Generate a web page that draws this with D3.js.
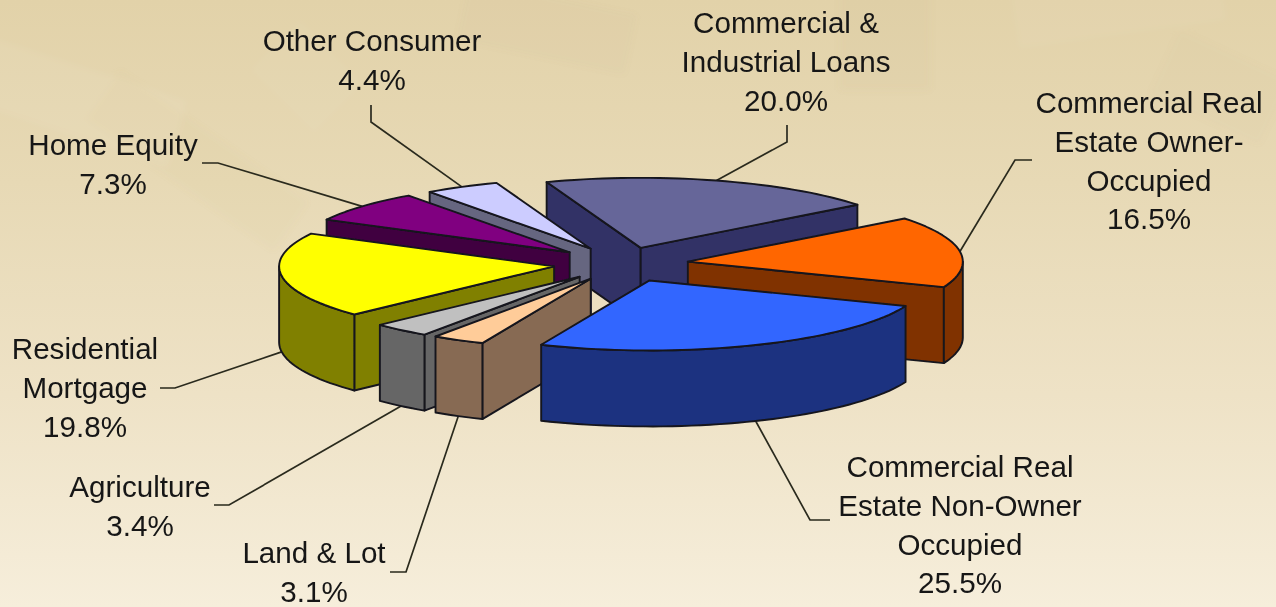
<!DOCTYPE html>
<html><head><meta charset="utf-8">
<script src="https://cdn.jsdelivr.net/npm/d3@7/dist/d3.min.js"></script>
<style>html,body{margin:0;padding:0;overflow:hidden;background:#efe3c6}svg{display:block}</style>
</head><body><svg id="c" width="1276" height="607"></svg>
<script>
const categories=["Commercial & Industrial Loans","Commercial Real Estate Owner-Occupied","Commercial Real Estate Non-Owner Occupied","Land & Lot","Agriculture","Residential Mortgage","Home Equity","Other Consumer"];
const values=[20.0,16.5,25.5,3.1,3.4,19.8,7.3,4.4];
const topColors=["#666699","#FF6600","#3366FF","#FFCC99","#C0C0C0","#FFFF00","#800080","#CCCCFF"];
const wallColors=["#333366","#803300","#1A3380","#876B52","#666666","#808000","#400040","#666680"];
const labelLines=[["Commercial &","Industrial Loans","20.0%"],["Commercial Real","Estate Owner-","Occupied","16.5%"],["Commercial Real","Estate Non-Owner","Occupied","25.5%"],["Land & Lot","3.1%"],["Agriculture","3.4%"],["Residential","Mortgage","19.8%"],["Home Equity","7.3%"],["Other Consumer","4.4%"]];
const labelPos=[[786,33],[1149,113],[960,477],[314,563],[140,497],[85,359],[113,155],[372,51]];
const leaderStubs=[[[787,125],[787,142]],[[1032,160],[1015,160]],[[830,520],[810,520]],[[390,572],[406,572]],[[214,505],[229,505]],[[160,388],[175,388]],[[202,163],[218,163]],[[371,105],[371,122]]];
const explodeBy=[66,66,70,66,66,69,70,68];
const drawOrder=[0,1,7,6,5,4,3,2];

const svg=d3.select("#c"),W=1276,H=607;
const defs=svg.append("defs");
const g=defs.append("linearGradient").attr("id","bg").attr("x1",0).attr("x2",0).attr("y1",0).attr("y2",1);
[[0,"#E2D2A9"],[.3,"#E7D9B5"],[.65,"#EEE2C6"],[1,"#F6EEDB"]].forEach(s=>g.append("stop").attr("offset",s[0]).attr("stop-color",s[1]));
defs.append("filter").attr("id","soft").append("feGaussianBlur").attr("stdDeviation",.45);
defs.append("filter").attr("id","tex").append("feGaussianBlur").attr("stdDeviation",3);
svg.append("rect").attr("width",W).attr("height",H).attr("fill","url(#bg)");
// faint banknote texture at the top
const tex=svg.append("g").attr("filter","url(#tex)");
[[-60,20,260,70,18,"#fff",.05],[120,70,230,60,35,"#b9a57a",.035],[470,-20,170,60,12,"#b9a57a",.04],[840,-30,90,120,0,"#b9a57a",.05],[1010,-10,210,60,-8,"#fff",.04],[1180,30,120,70,25,"#b9a57a",.03],[300,20,90,70,45,"#fff",.035]]
 .forEach(r=>tex.append("rect").attr("x",r[0]).attr("y",r[1]).attr("width",r[2]).attr("height",r[3]).attr("fill",r[5]).attr("opacity",r[6]).attr("transform",`rotate(${r[4]} ${r[0]} ${r[1]})`));

const rad=d=>d*Math.PI/180;
const arcs=d3.pie().sort(null).startAngle(rad(-20)).endAngle(rad(340))(values);
const sx=d3.scaleLinear().domain([-1,1]).range([-275,275]);
const sy=d3.scaleLinear().domain([-1,1]).range([-70,70]);
const cx=622.5,cy=264,depth=76;
const centers=arcs.map((a,i)=>{const m=(a.startAngle+a.endAngle)/2;return [cx+sx(Math.sin(m)*explodeBy[i]/275),cy-sy(Math.cos(m)*explodeBy[i]/275)];});
const pt=(c,a,dz=0)=>[c[0]+sx(Math.sin(a)),c[1]-sy(Math.cos(a))+dz];
const line=d3.line();
const sample=(a0,a1)=>{const n=Math.max(2,Math.ceil((a1-a0)/rad(2)));return d3.range(n+1).map(i=>a0+(a1-a0)*i/n);};

const chart=svg.append("g").attr("filter","url(#soft)");
const leaders=chart.append("g");
arcs.forEach((a,i)=>{
  const m=(a.startAngle+a.endAngle)/2;
  const end=pt(centers[i],m,Math.cos(m)<0?depth:0);
  leaders.append("path").attr("d",line([...leaderStubs[i],end])).attr("fill","none").attr("stroke","#2a2a1e").attr("stroke-width",1.7);
});
const ink="#14141e";
const face=(gg,d,f)=>gg.append("path").attr("d",d).attr("fill",f).attr("stroke",ink).attr("stroke-width",1.9).attr("stroke-linejoin","round");
drawOrder.forEach(i=>{
  const a=arcs[i],c=centers[i],gg=chart.append("g"),wall=wallColors[i];
  const a0=a.startAngle,a1=a.endAngle;
  const edge=e=>line([c,pt(c,e),pt(c,e,depth),[c[0],c[1]+depth]])+"Z";
  if(Math.cos(a0-Math.PI/2)<0) face(gg,edge(a0),wall);
  if(Math.cos(a1+Math.PI/2)<0) face(gg,edge(a1),wall);
  const r0=Math.max(a0,rad(90)),r1=Math.min(a1,rad(270));
  if(r1>r0){
    const s=sample(r0,r1);
    face(gg,line([...s.map(t=>pt(c,t)),...s.slice().reverse().map(t=>pt(c,t,depth))])+"Z",wall);
  }
  face(gg,line([c,...sample(a0,a1).map(t=>pt(c,t))])+"Z",topColors[i]);
});
const txt=svg.append("g").attr("filter","url(#soft)").attr("font-family","'Liberation Sans',Arial,sans-serif").attr("font-size",29.6).attr("fill","#161616").attr("text-anchor","middle");
labelLines.forEach((ls,i)=>ls.forEach((s,j)=>txt.append("text").attr("x",labelPos[i][0]).attr("y",labelPos[i][1]+j*38.8).text(s)));
</script></body></html>
